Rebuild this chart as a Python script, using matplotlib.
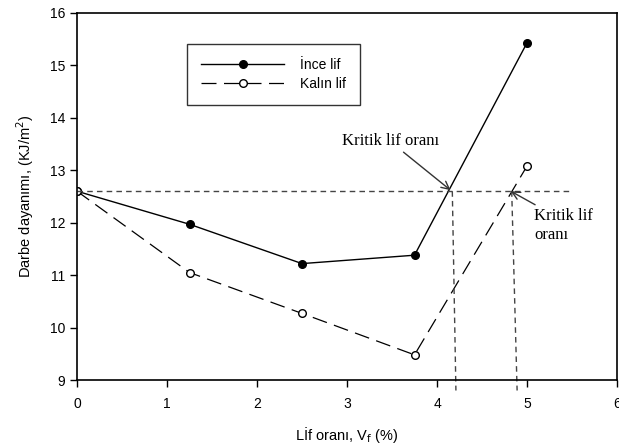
import matplotlib
matplotlib.use("Agg")
import matplotlib.pyplot as plt

x_vals = [0, 1.25, 2.5, 3.75, 5]
ince = [12.6, 11.97, 11.22, 11.38, 15.43]
kalin = [12.6, 11.05, 10.27, 9.48, 13.08]
labels = ["İnce lif", "Kalın lif"]
crit_y = 12.6
crit1 = (4.15, 12.62)
crit2 = (4.82, 12.6)
xticks = [0, 1, 2, 3, 4, 5, 6]
yticks = [9, 10, 11, 12, 13, 14, 15, 16]

plt.rcParams['font.family'] = ['Liberation Sans', 'DejaVu Sans']

fig = plt.figure(figsize=(6.19, 4.45), dpi=100)
ax = fig.add_axes([0.1244, 0.146, 0.8724, 0.825])

ax.plot(x_vals, ince, '-', color='black', lw=1.0, marker='o', ms=5.5,
        mfc='black', mec='black', label=labels[0])
ax.plot(x_vals, kalin, color='black', lw=0.9, dashes=(12, 6), marker='o', ms=5.5,
        mfc='white', mec='black', label=labels[1])

# critical guide lines
ax.plot([0, 5.48], [crit_y, crit_y], color='#444444', lw=1.0, dashes=(4, 3))
ax.plot([4.17, 4.21], [crit_y, 8.8], color='#444444', lw=1.0, dashes=(4, 3), clip_on=False)
ax.plot([4.83, 4.89], [crit_y, 8.8], color='#444444', lw=1.0, dashes=(4, 3), clip_on=False)

ax.annotate("Kritik lif oranı", xy=crit1, xytext=(2.94, 13.55),
            fontsize=12, family='Liberation Serif', ha='left', va='center',
            arrowprops=dict(arrowstyle='->', color='#333333', lw=1.0,
                            shrinkA=0, shrinkB=0, mutation_scale=14),
            )
ax.annotate("Kritik lif\noranı", xy=crit2, xytext=(5.08, 11.95),
            fontsize=12, family='Liberation Serif', ha='left', va='center',
            linespacing=1.3,
            arrowprops=dict(arrowstyle='->', color='#333333', lw=1.0,
                            shrinkA=0, shrinkB=0, mutation_scale=14,
                            relpos=(0.1, 1.0)),
            )

ax.set_xlim(0, 6)
ax.set_ylim(9, 16)
ax.set_xticks(xticks)
ax.set_yticks(yticks)
ax.tick_params(direction='out', length=5, width=1.0, labelsize=10, top=False, right=False)
ax.tick_params(axis='x', pad=7)
for s in ax.spines.values():
    s.set_linewidth(1.2)

ax.set_xlabel("Lİf oranı, V$_\\mathrm{f}$ (%)", fontsize=10.5, labelpad=10)
ax.set_ylabel("Darbe dayanımı, (KJ/m$^2$)", fontsize=10.5, labelpad=10)

leg = ax.legend(loc='upper left', bbox_to_anchor=(0.204, 0.915), frameon=True,
                fancybox=False, edgecolor='black', fontsize=10, handlelength=6.0,
                borderpad=1.0, labelspacing=0.35, handletextpad=1.1, borderaxespad=0)
leg.get_frame().set_linewidth(1.0)

fig.savefig("out.png", dpi=100)
